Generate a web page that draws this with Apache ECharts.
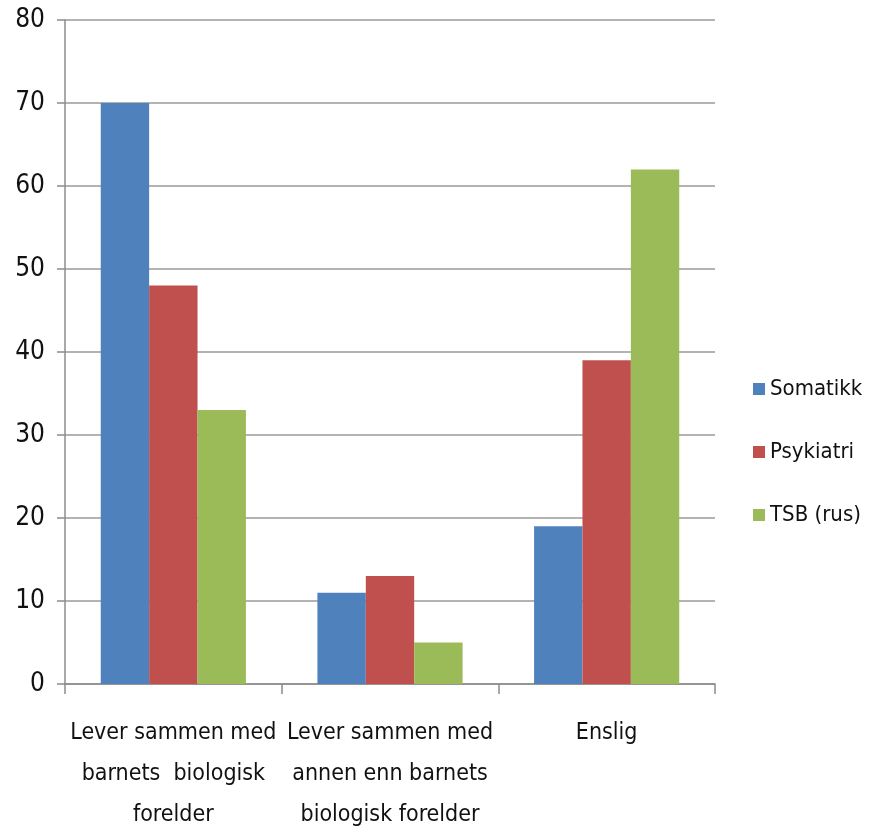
<!DOCTYPE html>
<html><head><meta charset="utf-8">
<script src="https://cdn.jsdelivr.net/npm/echarts@6/dist/echarts.min.js"></script>
<style>html,body{margin:0;padding:0;background:#fff}#c{width:878px;height:836px}</style>
</head><body><div id="c"></div>
<script>
var categories = ['Lever sammen med\nbarnets  biologisk\nforelder', 'Lever sammen med\nannen enn barnets\nbiologisk forelder', 'Enslig'];
var seriesNames = ['Somatikk', 'Psykiatri', 'TSB (rus)'];
var somatikk = [70, 11, 19];
var psykiatri = [48, 13, 39];
var tsb = [33, 5, 62];
var colors = ['#4F81BD', '#C0504D', '#9BBB59'];
var FONT = '"Liberation Sans Narrow", "DejaVu Sans Condensed", "Open Sans", sans-serif';
var chart = echarts.init(document.getElementById('c'));
var values = [somatikk, psykiatri, tsb];
chart.setOption({
  animation: false,
  textStyle: {fontFamily: FONT},
  grid: {left: 65, right: 163, top: 20, bottom: 150, containLabel: false},
  legend: {
    orient: 'vertical', left: 748, top: 373, itemGap: 41, itemWidth: 12, itemHeight: 12,
    icon: 'rect', textStyle: {fontSize: 22, color: '#111', fontFamily: FONT},
    data: seriesNames
  },
  xAxis: {
    type: 'category', data: categories,
    axisLine: {lineStyle: {color: '#8c8c8c', width: 1.5}},
    axisTick: {show: true, length: 10, alignWithLabel: false, lineStyle: {color: '#8c8c8c', width: 1.5}},
    axisLabel: {fontSize: 23, color: '#111', lineHeight: 41, margin: 29, interval: 0, fontFamily: FONT}
  },
  yAxis: {
    type: 'value', min: 0, max: 80, interval: 10,
    axisLine: {show: true, lineStyle: {color: '#8c8c8c', width: 1.5}},
    axisTick: {show: true, length: 8, lineStyle: {color: '#8c8c8c', width: 1.5}},
    splitLine: {lineStyle: {color: '#9a9a9a', width: 1.5}},
    axisLabel: {fontSize: 26, color: '#111', margin: 20, fontFamily: FONT}
  },
  series: seriesNames.map(function (n, i) {
    return {name: n, type: 'bar', data: values[i], itemStyle: {color: colors[i]},
      barGap: '0%', barCategoryGap: '33%'};
  })
});
</script></body></html>
